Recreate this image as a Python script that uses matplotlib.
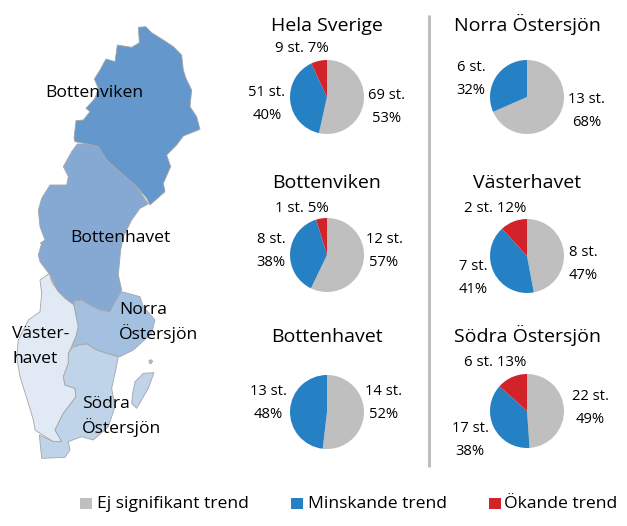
import matplotlib
matplotlib.use("Agg")
import matplotlib.pyplot as plt
from matplotlib.patches import Polygon, Rectangle

plt.rcParams['font.family'] = ['Open Sans', 'DejaVu Sans']

W, H = 627, 526

# Data
regions = ["Hela Sverige", "Norra Östersjön", "Bottenviken", "Västerhavet", "Bottenhavet", "Södra Östersjön"]
ej_signifikant = [69, 13, 12, 8, 14, 22]
minskande = [51, 6, 8, 7, 13, 17]
okande = [9, 0, 1, 2, 0, 6]
pct_ej = [53, 68, 57, 47, 52, 49]
pct_minskande = [40, 32, 38, 41, 48, 38]
pct_okande = [7, 0, 5, 12, 0, 13]

legend_labels = ["Ej signifikant trend", "Minskande trend", "Ökande trend"]
colors = ["#BFBFBF", "#2581C4", "#D2232A"]

# Map outlines (x, y at 3x zoom)
bottenviken = [(415,52),(437,50),(455,68),(490,90),(520,110),(545,135),(550,180),(558,205),(575,240),
               (570,290),(590,320),(600,358),(550,378),(530,405),(500,435),(512,470),(490,520),(495,545),
               (450,585),(440,565),(410,530),(370,495),(320,450),(295,410),(262,402),(225,395),(222,385),
               (228,332),(250,330),(270,305),(258,295),(285,265),(295,235),(283,207),(300,180),(318,147),
               (345,155),(352,105),(395,112),(418,98)]
bottenhavet_n = [(232,402),(262,402),(295,410),(320,450),(370,495),(410,530),(445,582),(420,595),(395,630),
                 (370,680),(362,720)]
bottenhavet_s = [(355,105),(365,150),(345,185),(330,215),(300,210),(270,195),(245,180),(222,183),(220,195),
                 (190,170),(170,150),(150,105),(120,65),(115,45),(125,10)]
bottenhavet_w = [(120,700),(135,690),(120,650),(115,600),(125,565),(150,525),(200,525),(205,500),(190,470),(215,425)]
vasterhavet = [(148,100),(155,125),(175,155),(195,175),(222,195),(235,260),(228,290),(215,320),(205,340),
               (205,370),(190,410),(195,435),(225,445),(228,470),(190,520),(165,570),(185,605),(160,605),
               (120,580),(105,570),(100,540),(85,490),(60,410),(50,350),(55,300),(85,240),(120,215),
               (125,160),(120,120)]
norra = [(222,183),(245,180),(270,195),(300,210),(330,215),(345,185),(365,155),(420,170),(430,200),(465,240),
         (455,280),(400,330),(360,350),(320,340),(290,330),(260,312),(235,315),(215,320),(228,290),(235,260),(222,195)]
sodra = [(215,325),(235,315),(260,312),(290,330),(320,340),(355,350),(345,400),(335,445),(345,500),(325,560),
         (280,600),(245,590),(205,605),(210,630),(195,652),(125,655),(118,585),(160,605),(185,605),(165,570),
         (190,520),(228,470),(225,445),(195,435),(190,410),(205,370),(205,340)]
gotland = [(405,425),(430,400),(462,398),(445,445),(410,505),(395,490),(398,460)]
gotska = [(447,362),(453,359),(458,364),(453,371),(448,369)]


def upper(pts):
    return [(x / 3, 10 + y / 3) for x, y in pts]


def lower(pts):
    return [(x / 3, 240 + y / 3) for x, y in pts]


fig = plt.figure(figsize=(W / 100, H / 100), dpi=100)
bg = fig.add_axes([0, 0, 1, 1])
bg.set_xlim(0, W)
bg.set_ylim(H, 0)
bg.axis('off')

# Map
shapes = [
    (upper(bottenviken), "#6497CB"),
    (upper(bottenhavet_n) + lower(bottenhavet_s) + upper(bottenhavet_w), "#85A9D3"),
    (lower(vasterhavet), "#E0E9F4"),
    (lower(norra), "#A3C0E0"),
    (lower(sodra), "#BFD3E9"),
    (lower(gotland), "#BFD3E9"),
    (lower(gotska), "#A3C0E0"),
]
for pts, c in shapes:
    bg.add_patch(Polygon(pts, closed=True, facecolor=c, edgecolor="#A6A6A6", linewidth=0.6))

# Map names, baseline positions
map_labels = [("Bottenviken", 45, 97), ("Bottenhavet", 70, 242), ("Norra", 119, 314), ("Östersjön", 119, 339),
              ("Väster-", 12, 338), ("havet", 12, 363), ("Södra", 82, 408), ("Östersjön", 82, 433)]
for txt, x, y in map_labels:
    bg.text(x, y, txt, fontsize=12.6, color="black", ha='left', va='baseline')

# Vertical divider
bg.plot([429, 429], [15, 467], color="#BFBFBF", linewidth=2.2, solid_capstyle='butt')

# Pies: centre, title baseline and label positions in pixels
pie_x = [327, 527, 327, 527, 327, 527]
pie_y = [97, 97, 255, 256, 412, 411]
title_y = [31, 31, 188, 188, 342, 342]
ej_pos = [(387, 107), (587, 111), (384, 251), (583, 264), (384, 403), (590, 408)]
minsk_pos = [(267, 104), (471, 79), (271, 251), (473, 278), (268, 403), (470, 440)]
okande_pos = [(302, 48), None, (302, 208), (495, 208), None, (495, 363)]
radius = 37

for i, name in enumerate(regions):
    bg.text(pie_x[i], title_y[i], name, fontsize=14, ha='center', va='baseline')
    ax = fig.add_axes([(pie_x[i] - radius) / W, 1 - (pie_y[i] + radius) / H, 2 * radius / W, 2 * radius / H])
    vals = [ej_signifikant[i], minskande[i], okande[i]]
    ax.pie(vals, colors=colors, startangle=90, counterclock=False, radius=1.0,
           wedgeprops={'linewidth': 0})
    ax.set_xlim(-1, 1)
    ax.set_ylim(-1, 1)

    x, y = ej_pos[i]
    bg.text(x, y, f"{ej_signifikant[i]} st.\n{pct_ej[i]}%", fontsize=10.6, ha='center', va='center', linespacing=1.65)
    x, y = minsk_pos[i]
    bg.text(x, y, f"{minskande[i]} st.\n{pct_minskande[i]}%", fontsize=10.6, ha='center', va='center', linespacing=1.65)
    if okande_pos[i] is not None:
        x, y = okande_pos[i]
        bg.text(x, y, f"{okande[i]} st. {pct_okande[i]}%", fontsize=10.8, ha='center', va='center')

# Legend
legend_box_x = [80, 291, 489]
legend_text_x = [97, 308, 504]
for lab, c, bx, tx in zip(legend_labels, colors, legend_box_x, legend_text_x):
    bg.add_patch(Rectangle((bx, 498), 11.5, 11, facecolor=c, edgecolor='none'))
    bg.text(tx, 508, lab, fontsize=12.6, ha='left', va='baseline')

fig.savefig("out.png", dpi=100)
